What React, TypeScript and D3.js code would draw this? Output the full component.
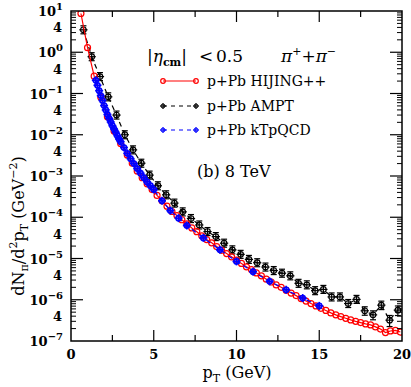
import React from "react";
import * as d3 from "d3";

// HIJING++ (red, solid line, open circles)
const hijingPt = [
  0.6, 1.0, 1.4, 1.8, 2.2, 2.6, 3.0, 3.4, 3.7, 4.0, 4.3, 4.6, 4.9, 5.2, 5.5, 5.8, 6.1, 6.4, 6.7, 7.0,
  7.3, 7.6, 7.9, 8.2, 8.5, 8.8, 9.1, 9.4, 9.7, 10.0, 10.3, 10.6, 10.9, 11.2, 11.5, 11.8, 12.1, 12.4,
  12.7, 13.0, 13.3, 13.6, 13.9, 14.2, 14.5, 14.8, 15.1, 15.4, 15.7, 16.0, 16.3, 16.6, 16.9, 17.2,
  17.5, 17.8, 18.1, 18.4, 18.7, 19.0, 19.3, 19.6, 19.9,
];
const hijingVal = [
  8.7, 1.29, 0.263, 0.0813, 0.0275, 0.0123, 6.17e-3, 3.24e-3, 2.04e-3, 1.32e-3, 9.1e-4, 6.46e-4,
  4.68e-4, 3.39e-4, 2.51e-4, 1.86e-4, 1.38e-4, 1.1e-4, 8.7e-5, 6.9e-5, 5.5e-5, 4.47e-5, 3.55e-5,
  2.88e-5, 2.4e-5, 1.95e-5, 1.58e-5, 1.32e-5, 1.1e-5, 9.1e-6, 7.6e-6, 6.3e-6, 5.4e-6, 4.47e-6,
  3.8e-6, 3.16e-6, 2.69e-6, 2.29e-6, 2.0e-6, 1.7e-6, 1.45e-6, 1.26e-6, 1.07e-6, 9.3e-7, 8.1e-7,
  7.1e-7, 6.2e-7, 5.5e-7, 4.8e-7, 4.3e-7, 3.9e-7, 3.55e-7, 3.24e-7, 3.0e-7, 2.8e-7, 2.6e-7,
  2.45e-7, 2.2e-7, 1.95e-7, 1.6e-7, 1.75e-7, 1.8e-7, 1.65e-7,
];

// AMPT (black, dashed, error bars)
const amptPt = [
  0.75, 1.25, 1.75, 2.25, 2.75, 3.25, 3.75, 4.25, 4.75, 5.25, 5.75, 6.25, 6.75, 7.25, 7.75, 8.25,
  8.75, 9.25, 9.75, 10.25, 10.75, 11.25, 11.75, 12.25, 12.75, 13.25, 13.75, 14.25, 14.75, 15.25,
  15.75, 16.25, 16.75, 17.25, 17.75, 18.25, 18.75, 19.25, 19.75,
];
const amptVal = [
  3.5, 0.78, 0.257, 0.083, 0.03, 0.01, 4.3e-3, 2.04e-3, 1.05e-3, 5.8e-4, 3.5e-4, 2.2e-4, 1.35e-4,
  9.3e-5, 6.5e-5, 4.5e-5, 3.4e-5, 2.35e-5, 1.62e-5, 1.26e-5, 9.5e-6, 7.9e-6, 6.2e-6, 5.1e-6,
  4.4e-6, 3.8e-6, 2.5e-6, 2.3e-6, 1.66e-6, 1.78e-6, 1.17e-6, 1.17e-6, 8.1e-7, 1.02e-6, 5.4e-7,
  4.3e-7, 7.4e-7, 3.2e-7, 5.6e-7,
];
// relative error of each AMPT point
const amptErr = [
  0.03, 0.03, 0.03, 0.03, 0.03, 0.04, 0.04, 0.04, 0.04, 0.05, 0.05, 0.05, 0.06, 0.06, 0.06, 0.07,
  0.07, 0.08, 0.08, 0.09, 0.09, 0.1, 0.1, 0.11, 0.12, 0.12, 0.13, 0.14, 0.15, 0.15, 0.17, 0.17, 0.2,
  0.2, 0.22, 0.24, 0.22, 0.3, 0.26,
];

// kTpQCD (blue, dashed)
const ktPt = [
  1.5, 1.6, 1.7, 1.8, 1.9, 2.0, 2.1, 2.2, 2.3, 2.4, 2.5, 2.6, 2.7, 2.8, 2.9, 3.0, 3.2, 3.4, 3.6,
  3.8, 4.0, 4.2, 4.4, 4.6, 4.8, 5.0, 5.5, 6.0, 6.5, 7.0, 8.0, 9.0, 10.0, 11.0, 12.0, 13.0, 14.0, 15.0,
];
const ktVal = [
  0.209, 0.158, 0.117, 0.089, 0.068, 0.051, 0.04, 0.031, 0.025, 0.0204, 0.0166, 0.0138, 0.0115,
  9.5e-3, 7.9e-3, 6.8e-3, 4.9e-3, 3.55e-3, 2.63e-3, 2.0e-3, 1.51e-3, 1.17e-3, 9.1e-4, 7.2e-4,
  5.8e-4, 4.7e-4, 2.5e-4, 1.45e-4, 9.5e-5, 6.3e-5, 3.16e-5, 1.62e-5, 8.5e-6, 4.8e-6, 2.8e-6,
  1.74e-6, 1.1e-6, 7.1e-7,
];

const xTicks = [0, 5, 10, 15, 20];
const yExponents = [1, 0, -1, -2, -3, -4, -5, -6, -7];

const W = 411;
const H = 387;
const L = 71, R = 402, T = 11, B = 341;
const serif = "'DejaVu Serif', serif";

export default function App() {
  const x = d3.scaleLinear().domain([0, 20]).range([L, R]);
  const y = d3.scaleLog().domain([1e-7, 10]).range([B, T]);

  const redLine = d3.line<number>().x((_, i) => x(hijingPt[i])).y((d) => y(d));
  const blackLine = d3.line<number>().x((_, i) => x(amptPt[i])).y((d) => y(d));
  const blueLine = d3.line<number>().x((_, i) => x(ktPt[i])).y((d) => y(d));

  const minorX = d3.range(2.5, 20, 5);
  const minorY: number[] = [];
  for (let e = -7; e < 1; e++) for (let m = 2; m <= 9; m++) minorY.push(m * Math.pow(10, e));

  const hw = x(0.25) - x(0);

  return (
    <svg width={W} height={H} style={{ position: "absolute", left: 0, top: 0, background: "#fff" }}>
      <defs>
        <clipPath id="clip">
          <rect x={L} y={T} width={R - L} height={B - T} />
        </clipPath>
      </defs>
      <g clipPath="url(#clip)">
        {/* AMPT */}
        <path d={blackLine(amptVal) || ""} fill="none" stroke="#000" strokeWidth={1.2} strokeDasharray="5,4" />
        {amptVal.map((v, i) => {
          const cx = x(amptPt[i]);
          const cy = y(v);
          const top = Math.min(y(v * (1 + amptErr[i])), cy - 4);
          const bot = Math.max(y(v * (1 - amptErr[i])), cy + 4);
          return (
            <g key={"a" + i} stroke="#000" strokeWidth={1.2} fill="none">
              <line x1={cx - hw} x2={cx + hw} y1={cy} y2={cy} />
              <line x1={cx} x2={cx} y1={top} y2={bot} />
              <line x1={cx - 3} x2={cx + 3} y1={top} y2={top} />
              <line x1={cx - 3} x2={cx + 3} y1={bot} y2={bot} />
              <circle cx={cx} cy={cy} r={2.8} />
            </g>
          );
        })}
        {/* HIJING++ */}
        <path d={redLine(hijingVal) || ""} fill="none" stroke="#ff0000" strokeWidth={1.2} />
        {hijingVal.map((v, i) => (
          <circle key={"h" + i} cx={x(hijingPt[i])} cy={y(v)} r={3} fill="none" stroke="#ff0000" strokeWidth={1.2} />
        ))}
        {/* kTpQCD */}
        <path d={blueLine(ktVal) || ""} fill="none" stroke="#0000ff" strokeWidth={1.2} strokeDasharray="5,4" />
        {ktVal.map((v, i) => {
          const cx = x(ktPt[i]);
          const cy = y(v);
          return (
            <g key={"k" + i} stroke="#0000ff" strokeWidth={1.6} fill="none">
              <line x1={cx - 4} x2={cx + 4} y1={cy} y2={cy} />
              <line x1={cx} x2={cx} y1={cy - 4} y2={cy + 4} />
              <circle cx={cx} cy={cy} r={2.6} />
            </g>
          );
        })}
      </g>

      {/* frame */}
      <rect x={L} y={T} width={R - L} height={B - T} fill="none" stroke="#000" strokeWidth={1.5} />
      {/* x ticks */}
      {xTicks.slice(1, -1).map((t) => (
        <g key={"xt" + t} stroke="#000" strokeWidth={1.2}>
          <line x1={x(t)} x2={x(t)} y1={B} y2={B - 11} />
          <line x1={x(t)} x2={x(t)} y1={T} y2={T + 11} />
        </g>
      ))}
      {minorX.map((t) => (
        <g key={"xm" + t} stroke="#000" strokeWidth={1.2}>
          <line x1={x(t)} x2={x(t)} y1={B} y2={B - 6} />
          <line x1={x(t)} x2={x(t)} y1={T} y2={T + 6} />
        </g>
      ))}
      {xTicks.map((t) => (
        <text key={"xl" + t} x={x(t)} y={359} textAnchor="middle" fontFamily={serif} fontWeight="bold" fontSize={13}>
          {t}
        </text>
      ))}
      {/* y ticks */}
      {yExponents.slice(1, -1).map((e) => (
        <g key={"yt" + e} stroke="#000" strokeWidth={1.2}>
          <line x1={L} x2={L + 12} y1={y(Math.pow(10, e))} y2={y(Math.pow(10, e))} />
          <line x1={R} x2={R - 12} y1={y(Math.pow(10, e))} y2={y(Math.pow(10, e))} />
        </g>
      ))}
      {minorY.map((t, i) => (
        <g key={"ym" + i} stroke="#000" strokeWidth={1}>
          <line x1={L} x2={L + 5} y1={y(t)} y2={y(t)} />
          <line x1={R} x2={R - 5} y1={y(t)} y2={y(t)} />
        </g>
      ))}
      {yExponents.map((e) => (
        <text key={"yl" + e} x={63} y={y(Math.pow(10, e)) + 5} textAnchor="end" fontFamily={serif} fontWeight="bold" fontSize={13}>
          10
          <tspan dy={-6} fontSize={10}>
            {e < 0 ? "\u2212" + -e : e}
          </tspan>
        </text>
      ))}
      {yExponents.slice(1).map((e) => (
        <text key={"y4" + e} x={62} y={y(4 * Math.pow(10, e)) + 5} textAnchor="end" fontFamily={serif} fontWeight="bold" fontSize={13}>
          4
        </text>
      ))}

      {/* axis titles */}
      <text x={237} y={378} textAnchor="middle" fontFamily={serif} fontSize={16}>
        p<tspan dy={4} fontSize={11}>T</tspan>
        <tspan dy={-4}> (GeV)</tspan>
      </text>
      <text transform="translate(24,226) rotate(-90)" textAnchor="middle" fontFamily={serif} fontSize={16}>
        dN<tspan dy={4} fontSize={11}>π</tspan>
        <tspan dy={-4}>/d</tspan>
        <tspan dy={-7} fontSize={11}>2</tspan>
        <tspan dy={7}>p</tspan>
        <tspan dy={4} fontSize={11}>T</tspan>
        <tspan dy={-4}> (GeV</tspan>
        <tspan dy={-7} fontSize={11}>−2</tspan>
        <tspan dy={7}>)</tspan>
      </text>

      {/* legend */}
      <text x={147} y={62} fontFamily={serif} fontSize={17}>
        |<tspan fontStyle="italic">η</tspan>
        <tspan dy={4} fontSize={11} fontWeight="bold">cm</tspan>
        <tspan dy={-4}>|</tspan>
      </text>
      <text x={199} y={62} fontFamily={serif} fontSize={17}>&lt;</text>
      <text x={216} y={62} fontFamily={serif} fontSize={17}>0.5</text>
      <text x={281} y={62} fontFamily={serif} fontSize={17} fontStyle="italic">
        π<tspan dy={-7} fontSize={11} fontStyle="normal">+</tspan>
        <tspan dy={7} fontStyle="normal">+</tspan>
        <tspan>π</tspan>
        <tspan dy={-7} fontSize={11} fontStyle="normal">−</tspan>
      </text>

      <line x1={163} x2={196} y1={81} y2={81} stroke="#ff0000" strokeWidth={1.2} />
      <circle cx={163} cy={81} r={2.3} fill="none" stroke="#ff0000" strokeWidth={1.2} />
      <circle cx={196} cy={81} r={2.3} fill="none" stroke="#ff0000" strokeWidth={1.2} />
      <text x={207} y={86} fontFamily={serif} fontSize={14}>p+Pb HIJING++</text>

      <line x1={163} x2={196} y1={106} y2={106} stroke="#000" strokeWidth={1.2} strokeDasharray="4,4" />
      {[163, 196].map((cx) => (
        <g key={"lb" + cx} stroke="#000" strokeWidth={1} fill="none">
          <circle cx={cx} cy={106} r={2} />
          <line x1={cx - 3} x2={cx + 3} y1={106} y2={106} />
          <line x1={cx} x2={cx} y1={103} y2={109} />
        </g>
      ))}
      <text x={207} y={111} fontFamily={serif} fontSize={14}>p+Pb AMPT</text>

      <line x1={163} x2={196} y1={130} y2={130} stroke="#0000ff" strokeWidth={1.2} strokeDasharray="4,4" />
      {[163, 196].map((cx) => (
        <g key={"lk" + cx} stroke="#0000ff" strokeWidth={1} fill="none">
          <circle cx={cx} cy={130} r={2} />
          <line x1={cx - 3} x2={cx + 3} y1={130} y2={130} />
          <line x1={cx} x2={cx} y1={127} y2={133} />
        </g>
      ))}
      <text x={207} y={135} fontFamily={serif} fontSize={14}>p+Pb kTpQCD</text>

      <text x={197} y={177} fontFamily={serif} fontSize={16}>(b) 8 TeV</text>
    </svg>
  );
}
